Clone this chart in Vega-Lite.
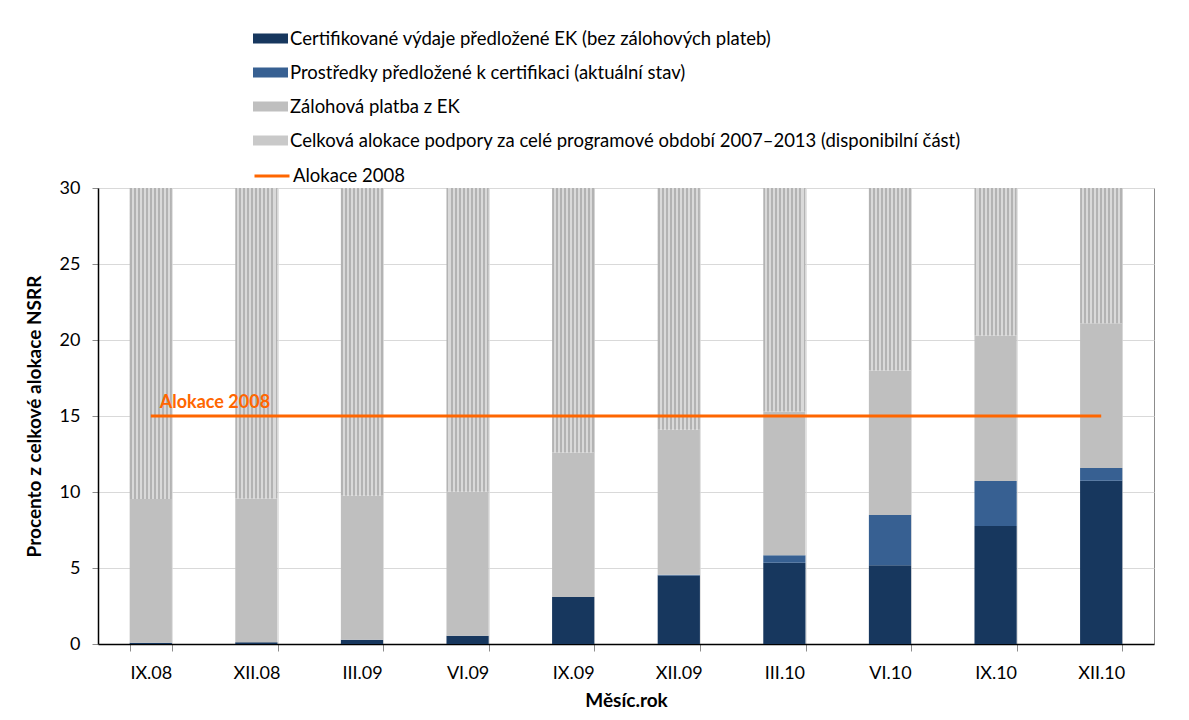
{
  "$schema": "https://vega.github.io/schema/vega-lite/v6.json",
  "width": 1056,
  "height": 456,
  "autosize": {"type": "none"},
  "padding": {"left": 98, "top": 188, "right": 35, "bottom": 76},
  "background": "white",
  "config": {
    "font": "Lato",
    "view": {"stroke": "#8c8c8c", "strokeWidth": 1},
    "axis": {
      "labelFont": "Lato", "titleFont": "Lato", "labelColor": "#000", "titleColor": "#000",
      "labelFontSize": 18, "titleFontSize": 19, "titleFontWeight": "bold",
      "gridColor": "#D9D9D9", "gridWidth": 1, "domainColor": "#000", "domainWidth": 1.5,
      "tickColor": "#8c8c8c"
    },
    "legend": {
      "labelFont": "Lato", "labelFontSize": 18.5, "labelColor": "#000", "labelOffset": 2,
      "labelLimit": 900, "rowPadding": 7, "symbolSize": 1225, "padding": 0, "title": null
    }
  },
  "datasets": {
    "bars": [
      {"month": "IX.08", "series": "Certifikované výdaje předložené EK (bez zálohových plateb)", "value": 0.08},
      {"month": "IX.08", "series": "Prostředky předložené k certifikaci (aktuální stav)", "value": 0},
      {"month": "IX.08", "series": "Zálohová platba z EK", "value": 9.46},
      {"month": "IX.08", "series": "Celková alokace podpory za celé programové období 2007–2013 (disponibilní část)", "value": 20.46},
      {"month": "XII.08", "series": "Certifikované výdaje předložené EK (bez zálohových plateb)", "value": 0.12},
      {"month": "XII.08", "series": "Prostředky předložené k certifikaci (aktuální stav)", "value": 0},
      {"month": "XII.08", "series": "Zálohová platba z EK", "value": 9.46},
      {"month": "XII.08", "series": "Celková alokace podpory za celé programové období 2007–2013 (disponibilní část)", "value": 20.42},
      {"month": "III.09", "series": "Certifikované výdaje předložené EK (bez zálohových plateb)", "value": 0.28},
      {"month": "III.09", "series": "Prostředky předložené k certifikaci (aktuální stav)", "value": 0},
      {"month": "III.09", "series": "Zálohová platba z EK", "value": 9.48},
      {"month": "III.09", "series": "Celková alokace podpory za celé programové období 2007–2013 (disponibilní část)", "value": 20.24},
      {"month": "VI.09", "series": "Certifikované výdaje předložené EK (bez zálohových plateb)", "value": 0.55},
      {"month": "VI.09", "series": "Prostředky předložené k certifikaci (aktuální stav)", "value": 0},
      {"month": "VI.09", "series": "Zálohová platba z EK", "value": 9.47},
      {"month": "VI.09", "series": "Celková alokace podpory za celé programové období 2007–2013 (disponibilní část)", "value": 19.98},
      {"month": "IX.09", "series": "Certifikované výdaje předložené EK (bez zálohových plateb)", "value": 3.1},
      {"month": "IX.09", "series": "Prostředky předložené k certifikaci (aktuální stav)", "value": 0},
      {"month": "IX.09", "series": "Zálohová platba z EK", "value": 9.5},
      {"month": "IX.09", "series": "Celková alokace podpory za celé programové období 2007–2013 (disponibilní část)", "value": 17.4},
      {"month": "XII.09", "series": "Certifikované výdaje předložené EK (bez zálohových plateb)", "value": 4.5},
      {"month": "XII.09", "series": "Prostředky předložené k certifikaci (aktuální stav)", "value": 0.05},
      {"month": "XII.09", "series": "Zálohová platba z EK", "value": 9.55},
      {"month": "XII.09", "series": "Celková alokace podpory za celé programové období 2007–2013 (disponibilní část)", "value": 15.9},
      {"month": "III.10", "series": "Certifikované výdaje předložené EK (bez zálohových plateb)", "value": 5.35},
      {"month": "III.10", "series": "Prostředky předložené k certifikaci (aktuální stav)", "value": 0.49},
      {"month": "III.10", "series": "Zálohová platba z EK", "value": 9.46},
      {"month": "III.10", "series": "Celková alokace podpory za celé programové období 2007–2013 (disponibilní část)", "value": 14.7},
      {"month": "VI.10", "series": "Certifikované výdaje předložené EK (bez zálohových plateb)", "value": 5.18},
      {"month": "VI.10", "series": "Prostředky předložené k certifikaci (aktuální stav)", "value": 3.31},
      {"month": "VI.10", "series": "Zálohová platba z EK", "value": 9.51},
      {"month": "VI.10", "series": "Celková alokace podpory za celé programové období 2007–2013 (disponibilní část)", "value": 12.0},
      {"month": "IX.10", "series": "Certifikované výdaje předložené EK (bez zálohových plateb)", "value": 7.76},
      {"month": "IX.10", "series": "Prostředky předložené k certifikaci (aktuální stav)", "value": 2.96},
      {"month": "IX.10", "series": "Zálohová platba z EK", "value": 9.58},
      {"month": "IX.10", "series": "Celková alokace podpory za celé programové období 2007–2013 (disponibilní část)", "value": 9.7},
      {"month": "XII.10", "series": "Certifikované výdaje předložené EK (bez zálohových plateb)", "value": 10.74},
      {"month": "XII.10", "series": "Prostředky předložené k certifikaci (aktuální stav)", "value": 0.84},
      {"month": "XII.10", "series": "Zálohová platba z EK", "value": 9.52},
      {"month": "XII.10", "series": "Celková alokace podpory za celé programové období 2007–2013 (disponibilní část)", "value": 8.9}
    ],
    "line": [
      {"month": "IX.08", "series": "Alokace 2008", "value": 15},
      {"month": "XII.08", "series": "Alokace 2008", "value": 15},
      {"month": "III.09", "series": "Alokace 2008", "value": 15},
      {"month": "VI.09", "series": "Alokace 2008", "value": 15},
      {"month": "IX.09", "series": "Alokace 2008", "value": 15},
      {"month": "XII.09", "series": "Alokace 2008", "value": 15},
      {"month": "III.10", "series": "Alokace 2008", "value": 15},
      {"month": "VI.10", "series": "Alokace 2008", "value": 15},
      {"month": "IX.10", "series": "Alokace 2008", "value": 15},
      {"month": "XII.10", "series": "Alokace 2008", "value": 15}
    ]
  },
  "encoding": {
    "x": {
      "field": "month", "type": "ordinal", "sort": null,
      "scale": {"paddingInner": 0.6, "paddingOuter": 0.3},
      "axis": {
        "title": "Měsíc.rok", "labelAngle": 0, "tickBand": "extent", "grid": true,
        "gridColor": "#E3E3E3", "tickSize": 7, "labelPadding": 13, "titlePadding": 9
      }
    },
    "y": {
      "field": "value", "type": "quantitative",
      "scale": {"domain": [0, 30], "nice": false},
      "axis": {
        "title": "Procento z celkové alokace NSRR", "values": [0, 5, 10, 15, 20, 25, 30],
        "tickSize": 6, "labelPadding": 12, "titlePadding": 15
      }
    }
  },
  "layer": [
    {
      "data": {"name": "bars"},
      "transform": [
        {"calculate": "indexof(['Certifikované výdaje předložené EK (bez zálohových plateb)', 'Prostředky předložené k certifikaci (aktuální stav)', 'Zálohová platba z EK', 'Celková alokace podpory za celé programové období 2007–2013 (disponibilní část)'], datum.series)", "as": "stackIndex"}
      ],
      "mark": {"type": "bar"},
      "encoding": {
        "y": {"field": "value", "type": "quantitative", "stack": "zero"},
        "order": {"field": "stackIndex", "type": "quantitative", "sort": "ascending"},
        "fill": {
          "condition": {
            "test": "datum.stackIndex === 3",
            "value": {
              "gradient": "linear", "x1": 0, "x2": 1, "y1": 0, "y2": 0,
              "stops": [
                {"offset": 0, "color": "#B3B3B3"}, {"offset": 0.0476, "color": "#B3B3B3"},
                {"offset": 0.0476, "color": "#D9D9D9"}, {"offset": 0.0952, "color": "#D9D9D9"},
                {"offset": 0.0952, "color": "#B3B3B3"}, {"offset": 0.1429, "color": "#B3B3B3"},
                {"offset": 0.1429, "color": "#D9D9D9"}, {"offset": 0.1905, "color": "#D9D9D9"},
                {"offset": 0.1905, "color": "#B3B3B3"}, {"offset": 0.2381, "color": "#B3B3B3"},
                {"offset": 0.2381, "color": "#D9D9D9"}, {"offset": 0.2857, "color": "#D9D9D9"},
                {"offset": 0.2857, "color": "#B3B3B3"}, {"offset": 0.3333, "color": "#B3B3B3"},
                {"offset": 0.3333, "color": "#D9D9D9"}, {"offset": 0.3810, "color": "#D9D9D9"},
                {"offset": 0.3810, "color": "#B3B3B3"}, {"offset": 0.4286, "color": "#B3B3B3"},
                {"offset": 0.4286, "color": "#D9D9D9"}, {"offset": 0.4762, "color": "#D9D9D9"},
                {"offset": 0.4762, "color": "#B3B3B3"}, {"offset": 0.5238, "color": "#B3B3B3"},
                {"offset": 0.5238, "color": "#D9D9D9"}, {"offset": 0.5714, "color": "#D9D9D9"},
                {"offset": 0.5714, "color": "#B3B3B3"}, {"offset": 0.6190, "color": "#B3B3B3"},
                {"offset": 0.6190, "color": "#D9D9D9"}, {"offset": 0.6667, "color": "#D9D9D9"},
                {"offset": 0.6667, "color": "#B3B3B3"}, {"offset": 0.7143, "color": "#B3B3B3"},
                {"offset": 0.7143, "color": "#D9D9D9"}, {"offset": 0.7619, "color": "#D9D9D9"},
                {"offset": 0.7619, "color": "#B3B3B3"}, {"offset": 0.8095, "color": "#B3B3B3"},
                {"offset": 0.8095, "color": "#D9D9D9"}, {"offset": 0.8571, "color": "#D9D9D9"},
                {"offset": 0.8571, "color": "#B3B3B3"}, {"offset": 0.9048, "color": "#B3B3B3"},
                {"offset": 0.9048, "color": "#D9D9D9"}, {"offset": 0.9524, "color": "#D9D9D9"},
                {"offset": 0.9524, "color": "#B3B3B3"}, {"offset": 1, "color": "#B3B3B3"}
              ]
            }
          },
          "field": "series", "type": "nominal",
          "scale": {
            "domain": [
              "Certifikované výdaje předložené EK (bez zálohových plateb)",
              "Prostředky předložené k certifikaci (aktuální stav)",
              "Zálohová platba z EK",
              "Celková alokace podpory za celé programové období 2007–2013 (disponibilní část)"
            ],
            "range": ["#17375E", "#376092", "#BFBFBF", "#C9C9C9"]
          },
          "legend": {
            "orient": "none", "legendX": 155, "legendY": -167,
            "symbolType": "M-1,-0.28H1V0.28H-1Z", "symbolStrokeWidth": 0, "symbolOpacity": 1
          }
        }
      }
    },
    {
      "data": {"name": "line"},
      "mark": {"type": "line", "strokeWidth": 3},
      "encoding": {
        "stroke": {
          "field": "series", "type": "nominal",
          "scale": {"domain": ["Alokace 2008"], "range": ["#FF6600"]},
          "legend": {
            "orient": "none", "legendX": 155, "legendY": -31,
            "symbolType": "stroke", "symbolStrokeWidth": 3
          }
        }
      }
    },
    {
      "data": {"name": "line"},
      "transform": [{"filter": "datum.month === 'IX.08'"}],
      "mark": {"type": "text", "align": "left", "baseline": "alphabetic", "dx": 9, "dy": -8, "fontSize": 18, "fontWeight": "bold", "color": "#FF6600", "font": "Lato"},
      "encoding": {
        "text": {"field": "series"}
      }
    }
  ]
}
